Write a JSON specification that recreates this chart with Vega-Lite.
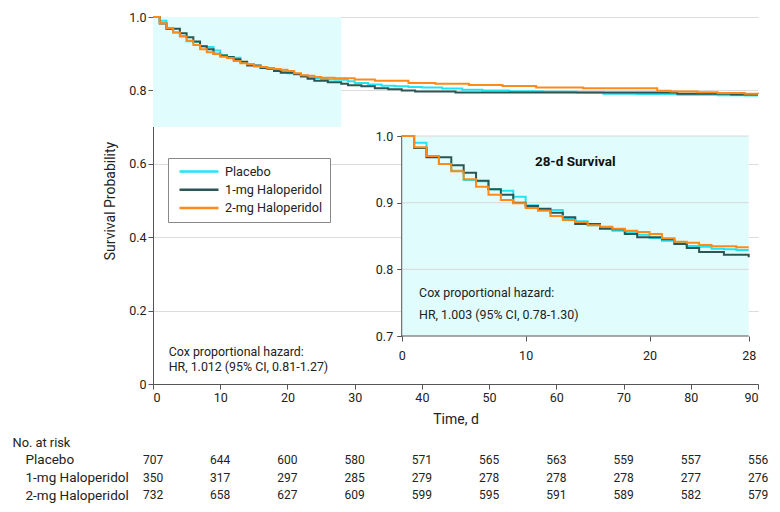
{
 "$schema": "https://vega.github.io/schema/vega-lite/v6.json",
 "padding": {"left": 12, "top": 11, "right": 5, "bottom": 5},
 "autosize": {"type": "pad"},
 "config": {
  "font": "Roboto",
  "view": {"stroke": null},
  "axis": {"labelFont": "Roboto", "titleFont": "Roboto", "labelFontSize": 12.5, "titleFontSize": 14, "labelColor": "#222", "titleColor": "#222", "titleFontWeight": "normal", "domainColor": "#555", "tickColor": "#555"},
  "text": {"font": "Roboto"}
 },
 "datasets": {
  "km": [
   {"group":"Placebo","day":0,"surv":1},{"group":"Placebo","day":1,"surv":0.990},{"group":"Placebo","day":2,"surv":0.969},{"group":"Placebo","day":3,"surv":0.958},{"group":"Placebo","day":4,"surv":0.948},{"group":"Placebo","day":5,"surv":0.934},{"group":"Placebo","day":6,"surv":0.932},{"group":"Placebo","day":7,"surv":0.920},{"group":"Placebo","day":8,"surv":0.918},{"group":"Placebo","day":9,"surv":0.909},{"group":"Placebo","day":10,"surv":0.896},{"group":"Placebo","day":11,"surv":0.890},{"group":"Placebo","day":12,"surv":0.889},{"group":"Placebo","day":13,"surv":0.877},{"group":"Placebo","day":14,"surv":0.872},{"group":"Placebo","day":15,"surv":0.866},{"group":"Placebo","day":16,"surv":0.862},{"group":"Placebo","day":17,"surv":0.858},{"group":"Placebo","day":18,"surv":0.856},{"group":"Placebo","day":19,"surv":0.852},{"group":"Placebo","day":20,"surv":0.847},{"group":"Placebo","day":21,"surv":0.843},{"group":"Placebo","day":22,"surv":0.840},{"group":"Placebo","day":23,"surv":0.835},{"group":"Placebo","day":24,"surv":0.834},{"group":"Placebo","day":25,"surv":0.831},{"group":"Placebo","day":26,"surv":0.830},{"group":"Placebo","day":27,"surv":0.829},{"group":"Placebo","day":28,"surv":0.829},{"group":"Placebo","day":29,"surv":0.825},{"group":"Placebo","day":30,"surv":0.820},{"group":"Placebo","day":32,"surv":0.816},{"group":"Placebo","day":34,"surv":0.813},{"group":"Placebo","day":36,"surv":0.811},{"group":"Placebo","day":38,"surv":0.809},{"group":"Placebo","day":40,"surv":0.808},{"group":"Placebo","day":43,"surv":0.805},{"group":"Placebo","day":46,"surv":0.802},{"group":"Placebo","day":49,"surv":0.800},{"group":"Placebo","day":53,"surv":0.798},{"group":"Placebo","day":58,"surv":0.796},{"group":"Placebo","day":63,"surv":0.794},{"group":"Placebo","day":67,"surv":0.791},{"group":"Placebo","day":72,"surv":0.790},{"group":"Placebo","day":78,"surv":0.788},{"group":"Placebo","day":84,"surv":0.787},{"group":"Placebo","day":88,"surv":0.786},{"group":"Placebo","day":90,"surv":0.786},
   {"group":"1-mg Haloperidol","day":0,"surv":1},{"group":"1-mg Haloperidol","day":1,"surv":0.982},{"group":"1-mg Haloperidol","day":2,"surv":0.968},{"group":"1-mg Haloperidol","day":4,"surv":0.956},{"group":"1-mg Haloperidol","day":5,"surv":0.945},{"group":"1-mg Haloperidol","day":6,"surv":0.933},{"group":"1-mg Haloperidol","day":7,"surv":0.920},{"group":"1-mg Haloperidol","day":8,"surv":0.912},{"group":"1-mg Haloperidol","day":9,"surv":0.900},{"group":"1-mg Haloperidol","day":10,"surv":0.895},{"group":"1-mg Haloperidol","day":11,"surv":0.891},{"group":"1-mg Haloperidol","day":12,"surv":0.885},{"group":"1-mg Haloperidol","day":13,"surv":0.878},{"group":"1-mg Haloperidol","day":14,"surv":0.868},{"group":"1-mg Haloperidol","day":16,"surv":0.861},{"group":"1-mg Haloperidol","day":17,"surv":0.860},{"group":"1-mg Haloperidol","day":18,"surv":0.853},{"group":"1-mg Haloperidol","day":19,"surv":0.848},{"group":"1-mg Haloperidol","day":21,"surv":0.845},{"group":"1-mg Haloperidol","day":22,"surv":0.838},{"group":"1-mg Haloperidol","day":23,"surv":0.832},{"group":"1-mg Haloperidol","day":24,"surv":0.826},{"group":"1-mg Haloperidol","day":26,"surv":0.822},{"group":"1-mg Haloperidol","day":28,"surv":0.818},{"group":"1-mg Haloperidol","day":29,"surv":0.814},{"group":"1-mg Haloperidol","day":31,"surv":0.811},{"group":"1-mg Haloperidol","day":33,"surv":0.806},{"group":"1-mg Haloperidol","day":35,"surv":0.803},{"group":"1-mg Haloperidol","day":37,"surv":0.800},{"group":"1-mg Haloperidol","day":39,"surv":0.797},{"group":"1-mg Haloperidol","day":45,"surv":0.794},{"group":"1-mg Haloperidol","day":78,"surv":0.791},{"group":"1-mg Haloperidol","day":86,"surv":0.789},{"group":"1-mg Haloperidol","day":90,"surv":0.789},
   {"group":"2-mg Haloperidol","day":0,"surv":1},{"group":"2-mg Haloperidol","day":1,"surv":0.983},{"group":"2-mg Haloperidol","day":2,"surv":0.970},{"group":"2-mg Haloperidol","day":3,"surv":0.958},{"group":"2-mg Haloperidol","day":4,"surv":0.947},{"group":"2-mg Haloperidol","day":5,"surv":0.935},{"group":"2-mg Haloperidol","day":6,"surv":0.924},{"group":"2-mg Haloperidol","day":7,"surv":0.912},{"group":"2-mg Haloperidol","day":8,"surv":0.904},{"group":"2-mg Haloperidol","day":9,"surv":0.899},{"group":"2-mg Haloperidol","day":10,"surv":0.892},{"group":"2-mg Haloperidol","day":11,"surv":0.888},{"group":"2-mg Haloperidol","day":12,"surv":0.880},{"group":"2-mg Haloperidol","day":13,"surv":0.874},{"group":"2-mg Haloperidol","day":14,"surv":0.871},{"group":"2-mg Haloperidol","day":15,"surv":0.866},{"group":"2-mg Haloperidol","day":16,"surv":0.864},{"group":"2-mg Haloperidol","day":17,"surv":0.861},{"group":"2-mg Haloperidol","day":18,"surv":0.858},{"group":"2-mg Haloperidol","day":19,"surv":0.856},{"group":"2-mg Haloperidol","day":20,"surv":0.853},{"group":"2-mg Haloperidol","day":21,"surv":0.8465},{"group":"2-mg Haloperidol","day":22,"surv":0.8415},{"group":"2-mg Haloperidol","day":23,"surv":0.840},{"group":"2-mg Haloperidol","day":24,"surv":0.8365},{"group":"2-mg Haloperidol","day":25,"surv":0.8345},{"group":"2-mg Haloperidol","day":27,"surv":0.833},{"group":"2-mg Haloperidol","day":28,"surv":0.833},{"group":"2-mg Haloperidol","day":30,"surv":0.830},{"group":"2-mg Haloperidol","day":33,"surv":0.826},{"group":"2-mg Haloperidol","day":38,"surv":0.820},{"group":"2-mg Haloperidol","day":42,"surv":0.818},{"group":"2-mg Haloperidol","day":47,"surv":0.815},{"group":"2-mg Haloperidol","day":52,"surv":0.812},{"group":"2-mg Haloperidol","day":57,"surv":0.808},{"group":"2-mg Haloperidol","day":64,"surv":0.806},{"group":"2-mg Haloperidol","day":75,"surv":0.799},{"group":"2-mg Haloperidol","day":77,"surv":0.797},{"group":"2-mg Haloperidol","day":81,"surv":0.795},{"group":"2-mg Haloperidol","day":84,"surv":0.793},{"group":"2-mg Haloperidol","day":88,"surv":0.791},{"group":"2-mg Haloperidol","day":90,"surv":0.790}
  ],
  "zoomBox": [{"x0": 0, "x1": 28, "y0": 0.7, "y1": 1.0}],
  "insetGrid": [{"g": 0.8}, {"g": 0.9}, {"g": 1.0}],
  "insetAxes": [{"x0": 0, "x1": 0, "y0": 0.7, "y1": 1.0}, {"x0": 0, "x1": 28, "y0": 0.7, "y1": 0.7}],
  "mainNote": [{"x": 2.33, "y": 0.0864, "label": "Cox proportional hazard:"}, {"x": 2.33, "y": 0.0455, "label": "HR, 1.012 (95% CI, 0.81-1.27)"}],
  "insetNote": [{"x": 1.4, "y": 0.764, "label": "Cox proportional hazard:"}, {"x": 1.4, "y": 0.732, "label": "HR, 1.003 (95% CI, 0.78-1.30)"}],
  "insetTitle": [{"x": 14.0, "y": 0.9606, "label": "28-d Survival"}],
  "risk": [
   {"group":"Placebo","time":0,"n":707},{"group":"Placebo","time":10,"n":644},{"group":"Placebo","time":20,"n":600},{"group":"Placebo","time":30,"n":580},{"group":"Placebo","time":40,"n":571},{"group":"Placebo","time":50,"n":565},{"group":"Placebo","time":60,"n":563},{"group":"Placebo","time":70,"n":559},{"group":"Placebo","time":80,"n":557},{"group":"Placebo","time":90,"n":556},
   {"group":"1-mg Haloperidol","time":0,"n":350},{"group":"1-mg Haloperidol","time":10,"n":317},{"group":"1-mg Haloperidol","time":20,"n":297},{"group":"1-mg Haloperidol","time":30,"n":285},{"group":"1-mg Haloperidol","time":40,"n":279},{"group":"1-mg Haloperidol","time":50,"n":278},{"group":"1-mg Haloperidol","time":60,"n":278},{"group":"1-mg Haloperidol","time":70,"n":278},{"group":"1-mg Haloperidol","time":80,"n":277},{"group":"1-mg Haloperidol","time":90,"n":276},
   {"group":"2-mg Haloperidol","time":0,"n":732},{"group":"2-mg Haloperidol","time":10,"n":658},{"group":"2-mg Haloperidol","time":20,"n":627},{"group":"2-mg Haloperidol","time":30,"n":609},{"group":"2-mg Haloperidol","time":40,"n":599},{"group":"2-mg Haloperidol","time":50,"n":595},{"group":"2-mg Haloperidol","time":60,"n":591},{"group":"2-mg Haloperidol","time":70,"n":589},{"group":"2-mg Haloperidol","time":80,"n":582},{"group":"2-mg Haloperidol","time":90,"n":579}
  ]
 },
 "spacing": 9,
 "resolve": {"scale": {"color": "independent"}},
 "vconcat": [
  {
   "width": 605,
   "height": 367,
   "resolve": {"scale": {"x": "independent", "y": "independent"}, "axis": {"x": "independent", "y": "independent"}},
   "layer": [
    {
     "layer": [
      {
       "data": {"name": "zoomBox"},
       "mark": {"type": "rect", "color": "#e0fcfd"},
       "encoding": {
        "x": {"field": "x0", "type": "quantitative", "scale": {"domain": [0, 90], "nice": false, "zero": false},
              "axis": {"orient": "bottom", "values": [0,10,20,30,40,50,60,70,80,90], "title": "Time, d", "grid": false, "tickSize": 5, "labelPadding": 2, "titlePadding": 9}},
        "x2": {"field": "x1"},
        "y": {"field": "y0", "type": "quantitative", "scale": {"domain": [0, 1], "nice": false, "zero": false},
              "axis": {"orient": "left", "values": [0, 0.2, 0.4, 0.6, 0.8, 1.0], "labelExpr": "datum.value == 0 ? '0' : format(datum.value, '.1f')", "grid": true, "gridColor": "#dcdcdc", "title": "Survival Probability", "tickSize": 5, "labelPadding": 2, "titlePadding": 11}},
        "y2": {"field": "y1"}
       }
      },
      {
       "data": {"name": "km"},
       "mark": {"type": "line", "interpolate": "step-after", "strokeWidth": 2},
       "encoding": {
        "x": {"field": "day", "type": "quantitative"},
        "y": {"field": "surv", "type": "quantitative"},
        "color": {"field": "group", "type": "nominal",
                  "scale": {"domain": ["Placebo", "1-mg Haloperidol", "2-mg Haloperidol"], "range": ["#1fe6f2", "#2b5656", "#ff8a1a"]},
                  "legend": {"title": null, "orient": "none", "legendX": 15, "legendY": 141, "direction": "vertical",
                             "symbolType": "M-0.4,0H7.4", "symbolSize": 100, "symbolStrokeWidth": 2.5, "labelFont": "Roboto", "labelFontSize": 12.7, "labelColor": "#222",
                             "labelOffset": 37, "rowPadding": 4.3, "padding": 7, "strokeColor": "#888", "fillColor": "#ffffff"}}
       }
      },
      {
       "data": {"name": "mainNote"},
       "mark": {"type": "text", "align": "left", "baseline": "middle", "fontSize": 12.4, "color": "#222"},
       "encoding": {
        "x": {"field": "x", "type": "quantitative"},
        "y": {"field": "y", "type": "quantitative"},
        "text": {"field": "label"}
       }
      }
     ]
    },
    {
     "layer": [
      {
       "data": {"name": "zoomBox"},
       "mark": {"type": "rect", "color": "#e0fcfd"},
       "encoding": {
        "x": {"field": "x0", "type": "quantitative", "scale": {"domain": [-20.07, 28.75], "nice": false, "zero": false},
              "axis": {"orient": "bottom", "offset": -48, "values": [0, 10, 20, 28], "domain": false, "grid": false, "title": null, "tickSize": 5, "labelPadding": 8}},
        "x2": {"field": "x1"},
        "y": {"field": "y0", "type": "quantitative", "scale": {"domain": [0.628, 1.1785], "nice": false, "zero": false},
              "axis": {"orient": "left", "offset": -248.7, "values": [0.7, 0.8, 0.9, 1.0], "format": ".1f", "domain": false, "grid": false, "title": null, "tickSize": 5, "labelPadding": 4}},
        "y2": {"field": "y1"}
       }
      },
      {
       "data": {"name": "insetGrid"},
       "mark": {"type": "rule", "color": "#d8d8d8", "strokeWidth": 1},
       "encoding": {
        "x": {"datum": 0, "type": "quantitative"},
        "x2": {"datum": 28},
        "y": {"field": "g", "type": "quantitative"}
       }
      },
      {
       "data": {"name": "insetAxes"},
       "mark": {"type": "rule", "color": "#555", "strokeWidth": 1},
       "encoding": {
        "x": {"field": "x0", "type": "quantitative"},
        "x2": {"field": "x1"},
        "y": {"field": "y0", "type": "quantitative"},
        "y2": {"field": "y1"}
       }
      },
      {
       "data": {"name": "km"},
       "transform": [{"filter": "datum.day <= 28"}],
       "mark": {"type": "line", "interpolate": "step-after", "strokeWidth": 2},
       "encoding": {
        "x": {"field": "day", "type": "quantitative"},
        "y": {"field": "surv", "type": "quantitative"},
        "color": {"field": "group", "type": "nominal"}
       }
      },
      {
       "data": {"name": "insetTitle"},
       "mark": {"type": "text", "align": "center", "baseline": "middle", "fontSize": 13.5, "fontWeight": "bold", "color": "#111"},
       "encoding": {
        "x": {"field": "x", "type": "quantitative"},
        "y": {"field": "y", "type": "quantitative"},
        "text": {"field": "label"}
       }
      },
      {
       "data": {"name": "insetNote"},
       "mark": {"type": "text", "align": "left", "baseline": "middle", "fontSize": 12.4, "color": "#222"},
       "encoding": {
        "x": {"field": "x", "type": "quantitative"},
        "y": {"field": "y", "type": "quantitative"},
        "text": {"field": "label"}
       }
      }
     ]
    }
   ]
  },
  {
   "width": 605,
   "height": 53,
   "data": {"name": "risk"},
   "mark": {"type": "text", "align": "center", "baseline": "middle", "fontSize": 12, "color": "#222"},
   "encoding": {
    "x": {"field": "time", "type": "quantitative", "scale": {"domain": [0, 90], "nice": false}, "axis": null},
    "y": {"field": "group", "type": "nominal", "sort": ["Placebo", "1-mg Haloperidol", "2-mg Haloperidol"],
          "scale": {"paddingInner": 0, "paddingOuter": 0},
          "axis": {"title": "No. at risk", "titleAngle": 0, "titleAlign": "left", "titleBaseline": "middle", "titleX": -141, "titleY": -9, "titleFontSize": 12.8,
                   "domain": false, "ticks": false, "labelAlign": "left", "labelPadding": 128, "labelFontSize": 13.5}},
    "text": {"field": "n", "type": "quantitative"}
   }
  }
 ]
}
